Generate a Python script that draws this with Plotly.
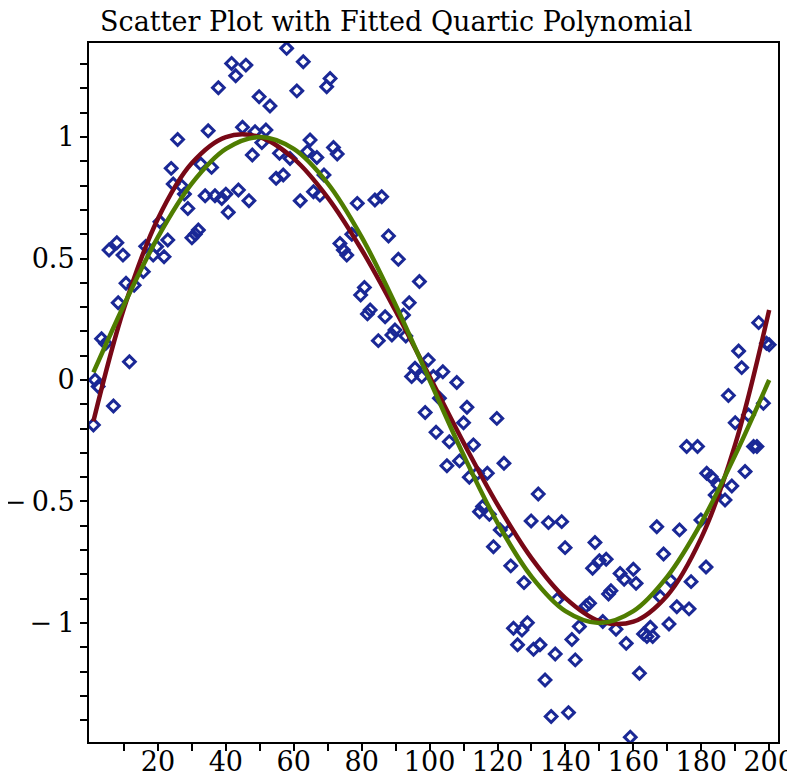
import plotly.graph_objects as go

# Scatter data
pts_x = [1, 1.5, 2.4, 3.4, 4.6, 5.6, 6.9, 7.9, 8.3, 9.7, 10.6, 11.6, 13, 15.7, 16.4, 18.6, 19.6, 20.6, 21.8, 22.9,
         23.9, 24.5, 25.8, 27, 27.8, 28.8, 30, 31, 31.9, 32.6, 33.9, 34.8, 35.8, 36.8, 37.8, 38.8, 40, 40.7, 41.7, 42.9,
         43.7, 44.9, 45.9, 46.8, 47.8, 48.6, 49.8, 50.6, 51.8, 53, 54.8, 55.8, 56.9, 57.9, 58.9, 60.9, 61.9, 62.8, 64, 64.8,
         65.8, 66.8, 67.7, 68.9, 69.7, 70.7, 71.7, 72.8, 73.6, 74.6, 75.6, 77.1, 78.7, 79.7, 80.8, 81.7, 82.5, 83.9, 84.9, 85.9,
         86.9, 87.9, 88.9, 89.8, 90.8, 92.3, 93, 94, 94.7, 95.7, 97, 97.7, 98.7, 99.6, 101.1, 101.9, 102.9, 103.9, 105.1, 105.8,
         108, 108.8, 110, 111, 111.7, 112.9, 114.1, 114.7, 115.6, 117, 117.6, 118.8, 119.8, 120.8, 121.9, 123.2, 123.9, 124.7, 125.9, 127.2,
         127.8, 128.8, 129.9, 130.6, 132, 132.5, 134, 135, 135.8, 137, 137.6, 138.9, 139.9, 140.9, 141.9, 142.9, 144.1, 146.1, 147.1, 148,
         148.7, 150, 151, 152, 152.7, 153.4, 154.9, 156.1, 157.3, 157.9, 159.1, 160, 160.8, 161.8, 163, 164, 165, 165.7, 166.9, 167.9,
         168.9, 171, 170.5, 172.8, 173.6, 175.7, 176.4, 177, 178.9, 179.9, 181.4, 181.6, 182.9, 184.1, 185, 187, 188, 189, 190, 191,
         191.9, 192.9, 193.9, 195.4, 196.4, 196.9, 198.3, 199.2, 200]
pts_y = [-0.185, 0.0, -0.027, 0.17, 0.15, 0.535, -0.107, 0.565, 0.318, 0.514, 0.398, 0.075, 0.39, 0.446, 0.55, 0.514, 0.549, 0.651, 0.507, 0.576,
         0.871, 0.807, 0.99, 0.798, 0.765, 0.706, 0.585, 0.6, 0.617, 0.889, 0.758, 1.026, 0.875, 0.758, 1.203, 0.747, 0.765, 0.69, 1.303, 1.252,
         0.782, 1.04, 1.296, 0.738, 0.926, 1.022, 1.166, 0.977, 1.029, 1.128, 0.83, 0.933, 0.844, 1.365, 0.912, 1.19, 0.738, 1.31, 0.94, 0.988,
         0.775, 0.916, 0.761, 0.844, 1.207, 1.241, 0.957, 0.93, 0.562, 0.535, 0.514, 0.6, 0.727, 0.35, 0.381, 0.272, 0.288, 0.741, 0.162, 0.754,
         0.26, 0.593, 0.185, 0.206, 0.497, 0.267, 0.181, 0.318, 0.014, 0.048, 0.405, 0.014, -0.134, 0.082, 0.014, -0.215, -0.075, 0.034, -0.353, -0.254,
         -0.01, -0.333, -0.176, -0.112, -0.4, -0.267, -0.384, -0.542, -0.521, -0.384, -0.553, -0.686, -0.158, -0.617, -0.343, -0.624, -0.765, -1.022, -1.09, -1.029,
         -0.834, -0.999, -0.58, -1.108, -0.469, -1.09, -1.235, -0.587, -1.385, -1.128, -0.903, -0.583, -0.69, -1.369, -1.068, -1.152, -1.015, -0.93, -0.919, -0.775,
         -0.669, -0.744, -0.994, -0.738, -0.881, -0.867, -1.026, -0.796, -0.82, -1.084, -1.47, -0.779, -0.837, -1.207, -1.045, -1.056, -1.018, -1.056, -0.604, -0.892,
         -0.716, -0.826, -1.004, -0.933, -0.617, -0.274, -0.942, -0.83, -0.274, -0.576, -0.77, -0.384, -0.398, -0.473, -0.432, -0.494, -0.064, -0.436, -0.176, 0.119,
         0.051, -0.377, -0.144, -0.274, -0.274, 0.236, -0.096, 0.151, 0.145]

# Curves
curve_x = [1, 10, 20, 30, 40, 50, 60, 70, 80, 90, 100, 110, 120, 130, 140, 150, 160, 170, 180, 190, 200]
quartic_y = [-0.170, 0.295, 0.664, 0.893, 1.000, 1.000, 0.911, 0.751, 0.536, 0.284, 0.014, -0.258, -0.513,
             -0.733, -0.898, -0.992, -0.995, -0.887, -0.650, -0.265, 0.288]
sine_y = [0.031, 0.309, 0.588, 0.809, 0.951, 1.0, 0.951, 0.809, 0.588, 0.309, 0.0, -0.309, -0.588,
          -0.809, -0.951, -1.0, -0.951, -0.809, -0.588, -0.309, 0.0]

y_tickvals = [-1, -0.5, 0, 0.5, 1]
y_ticktext = ["\u2212\u20091", "\u2212\u20090.5", "0", "0.5", "1"]
x_tickvals = [20, 40, 60, 80, 100, 120, 140, 160, 180, 200]

fig = go.Figure()
fig.add_trace(go.Scatter(x=pts_x, y=pts_y, mode="markers",
                         marker=dict(symbol="diamond-open", size=9, color="#1a2896",
                                     line=dict(width=3, color="#1a2896")),
                         showlegend=False))
fig.add_trace(go.Scatter(x=curve_x, y=quartic_y, mode="lines",
                         line=dict(color="#780816", width=4.5, shape="spline"), showlegend=False))
fig.add_trace(go.Scatter(x=curve_x, y=sine_y, mode="lines",
                         line=dict(color="#4f7d00", width=4.5, shape="spline"), showlegend=False))

font = dict(family="DejaVu Serif", size=27, color="black")
fig.update_layout(
    width=787, height=772,
    margin=dict(l=81, r=17, t=35, b=38, autoexpand=False),
    paper_bgcolor="white", plot_bgcolor="white",
    title=dict(text="Scatter Plot with Fitted Quartic Polynomial", x=0.117, xanchor="left",
               y=0.982, yanchor="middle", font=dict(family="DejaVu Serif", size=27, color="black")),
    font=font,
)
fig.update_xaxes(range=[-0.3, 202.6], showgrid=False, zeroline=False, automargin=False,
                 showline=True, linecolor="black", linewidth=2, mirror=True,
                 tickvals=x_tickvals, ticks="outside", ticklen=7, tickwidth=1.5, tickcolor="black",
                 ticklabelstandoff=-12,
                 minor=dict(tickvals=[10, 30, 50, 70, 90, 110, 130, 150, 170, 190], ticks="outside",
                            ticklen=7, tickwidth=1.5, tickcolor="black"),
                 tickfont=font)
fig.update_yaxes(range=[-1.49, 1.387], showgrid=False, zeroline=False, automargin=False,
                 showline=True, linecolor="black", linewidth=2, mirror=True,
                 tickvals=y_tickvals, ticktext=y_ticktext, ticks="outside", ticklen=7, tickwidth=1.5,
                 tickcolor="black",
                 minor=dict(dtick=0.1, tick0=0, ticks="outside", ticklen=7, tickwidth=1.5, tickcolor="black"),
                 tickfont=font)

fig.write_html("out.html")
